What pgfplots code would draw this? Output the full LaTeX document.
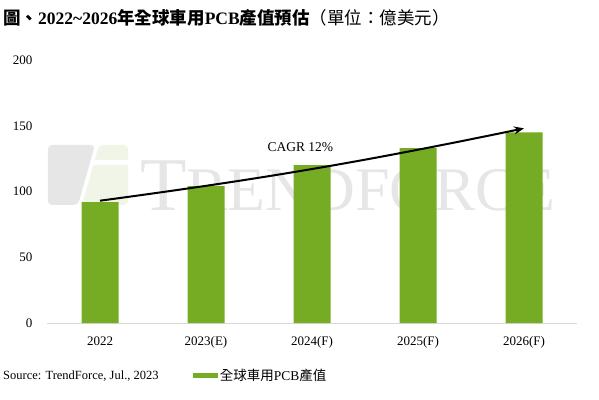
\documentclass[border=0pt]{standalone}
\usepackage{pgfplots}
\pgfplotsset{compat=1.18}
\usepackage{fontspec}
\setmainfont{Liberation Serif}
\newfontfamily\cjk{Noto Sans CJK TC}
\usetikzlibrary{arrows.meta}
\definecolor{barcol}{RGB}{118,172,36}
\definecolor{wmgray}{RGB}{230,230,230}
\definecolor{wmgreen}{RGB}{240,245,232}
\definecolor{axgray}{RGB}{217,217,217}

\begin{document}
\begin{tikzpicture}
\useasboundingbox (-47pt,-76pt) rectangle (552pt,323pt);
% watermark logo
\fill[wmgray, rounded corners=4pt] (1pt,178pt) -- (48pt,178pt) -- (31pt,118pt) -- (1pt,118pt) -- cycle;
\fill[wmgreen, rounded corners=4pt] (52pt,178pt) -- (81pt,178pt) -- (81pt,118pt) -- (35pt,118pt) -- cycle;
\fill[white] (44pt,163pt) -- (82pt,163pt) -- (82pt,158pt) -- (43pt,158pt) -- cycle;
% watermark text
\node[anchor=base west, inner sep=0pt, text=wmgray] at (93pt,113pt)
  {\fontsize{76}{76}\selectfont T\fontsize{62}{62}\selectfont RENDFORCE};
\begin{axis}[
  scale only axis,
  width=530pt, height=263pt,
  xmin=-0.5, xmax=4.5,
  ymin=0, ymax=200,
  ytick={0,50,...,200},
  xtick={0,1,2,3,4},
  xticklabels={2022,2023(E),2024(F),2025(F),2026(F)},
  axis lines*=left,
  x axis line style={draw=axgray, line width=0.8pt, -},
  y axis line style={draw=none},
  tick style={draw=none},
  major tick length=0pt,
  ticklabel style={font=\fontsize{13}{15}\selectfont},
  /pgf/number format/assume math mode=true,
  yticklabel style={xshift=-11pt},
  xticklabel style={yshift=-10pt},
  ybar, bar width=37pt,
  legend style={at={(0.275,-0.198)}, anchor=west, draw=none, fill=none,
    inner sep=0pt, font=\fontsize{13.5}{15}\selectfont},
  legend image code/.code={\fill[barcol] (0pt,-2.5pt) rectangle (25pt,2.5pt);},
  clip=false,
]
\addplot[fill=barcol, draw=none] coordinates {(0,92) (1,104) (2,120) (3,133) (4,145)};
\addlegendentry{{\cjk 全球車用}PCB{\cjk 產值}}
\draw[line width=2pt, -{Stealth[length=10pt,width=8pt]}] (axis cs:0,93) to[bend right=2] (axis cs:4,148);
\node[font=\fontsize{13.5}{15}\selectfont] at (axis cs:1.89,134) {CAGR 12\%};
\end{axis}
% title
\node[anchor=west, inner sep=0pt, font=\fontsize{17.5}{20}\selectfont] at (-44pt,305pt)
  {{\cjk\bfseries 圖、}\textbf{2022\textasciitilde2026}{\cjk\bfseries 年全球車用}\textbf{PCB}{\cjk\bfseries 產值預估}{\cjk （單位：億美元）}};
% source
\node[anchor=west, inner sep=0pt, font=\fontsize{12.5}{15}\selectfont] at (-44pt,-53pt)
  {Source: TrendForce, Jul., 2023};
\end{tikzpicture}
\end{document}
